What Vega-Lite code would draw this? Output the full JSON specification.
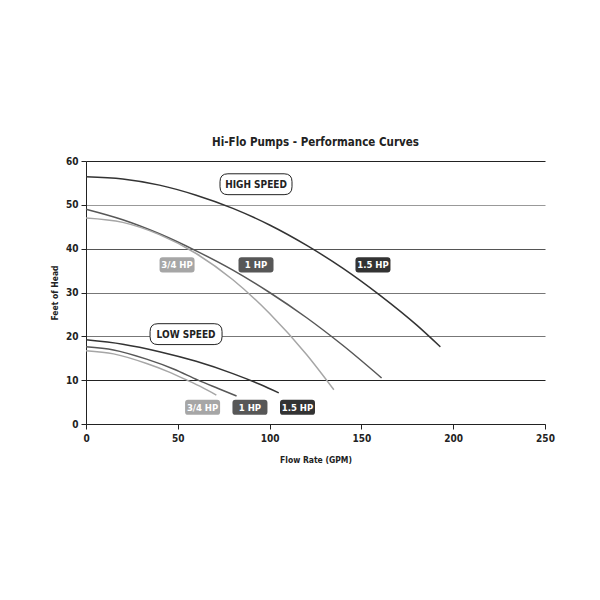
{
  "$schema": "https://vega.github.io/schema/vega-lite/v6.json",
  "width": 459,
  "height": 263,
  "autosize": {"type": "none"},
  "padding": {"left": 86, "top": 161, "right": 55, "bottom": 176},
  "background": "white",
  "title": {
    "text": "Hi-Flo Pumps - Performance Curves",
    "font": "DejaVu Sans Condensed, sans-serif",
    "fontSize": 11.5,
    "fontWeight": "bold",
    "color": "#222",
    "offset": 8
  },
  "config": {
    "view": {"stroke": null},
    "font": "DejaVu Sans Condensed, sans-serif",
    "axis": {
      "labelFont": "DejaVu Sans Condensed, sans-serif",
      "titleFont": "DejaVu Sans Condensed, sans-serif",
      "labelFontWeight": "bold",
      "titleFontWeight": "bold",
      "labelColor": "#222",
      "titleColor": "#222",
      "labelFontSize": 10,
      "titleFontSize": 8.5,
      "domainColor": "#222",
      "tickColor": "#222",
      "labelFlush": false,
      "labelOverlap": false
    }
  },
  "datasets": {
    "curves": [
      {"speed": "high", "hp": "1.5 HP", "flow": 0, "head": 56.4},
      {"speed": "high", "hp": "1.5 HP", "flow": 20, "head": 55.9},
      {"speed": "high", "hp": "1.5 HP", "flow": 40, "head": 54.5},
      {"speed": "high", "hp": "1.5 HP", "flow": 60, "head": 52.2},
      {"speed": "high", "hp": "1.5 HP", "flow": 80, "head": 49.2},
      {"speed": "high", "hp": "1.5 HP", "flow": 100, "head": 45.4},
      {"speed": "high", "hp": "1.5 HP", "flow": 120, "head": 40.8},
      {"speed": "high", "hp": "1.5 HP", "flow": 140, "head": 35.5},
      {"speed": "high", "hp": "1.5 HP", "flow": 160, "head": 29.4},
      {"speed": "high", "hp": "1.5 HP", "flow": 180, "head": 22.6},
      {"speed": "high", "hp": "1.5 HP", "flow": 193, "head": 17.6},
      {"speed": "high", "hp": "1 HP", "flow": 0, "head": 49},
      {"speed": "high", "hp": "1 HP", "flow": 20, "head": 46.6},
      {"speed": "high", "hp": "1 HP", "flow": 40, "head": 43.4},
      {"speed": "high", "hp": "1 HP", "flow": 60, "head": 39.5},
      {"speed": "high", "hp": "1 HP", "flow": 80, "head": 35.1},
      {"speed": "high", "hp": "1 HP", "flow": 100, "head": 30.0},
      {"speed": "high", "hp": "1 HP", "flow": 120, "head": 24.3},
      {"speed": "high", "hp": "1 HP", "flow": 140, "head": 17.9},
      {"speed": "high", "hp": "1 HP", "flow": 161, "head": 10.5},
      {"speed": "high", "hp": "3/4 HP", "flow": 0, "head": 47},
      {"speed": "high", "hp": "3/4 HP", "flow": 20, "head": 46.0},
      {"speed": "high", "hp": "3/4 HP", "flow": 40, "head": 43.2},
      {"speed": "high", "hp": "3/4 HP", "flow": 60, "head": 38.9},
      {"speed": "high", "hp": "3/4 HP", "flow": 80, "head": 32.9},
      {"speed": "high", "hp": "3/4 HP", "flow": 100, "head": 25.2},
      {"speed": "high", "hp": "3/4 HP", "flow": 120, "head": 15.9},
      {"speed": "high", "hp": "3/4 HP", "flow": 135, "head": 7.8},
      {"speed": "low", "hp": "1.5 HP", "flow": 0, "head": 19.2},
      {"speed": "low", "hp": "1.5 HP", "flow": 20, "head": 18.2},
      {"speed": "low", "hp": "1.5 HP", "flow": 40, "head": 16.5},
      {"speed": "low", "hp": "1.5 HP", "flow": 60, "head": 14.3},
      {"speed": "low", "hp": "1.5 HP", "flow": 80, "head": 11.5},
      {"speed": "low", "hp": "1.5 HP", "flow": 95, "head": 9.0},
      {"speed": "low", "hp": "1.5 HP", "flow": 105, "head": 7.1},
      {"speed": "low", "hp": "1 HP", "flow": 0, "head": 17.6},
      {"speed": "low", "hp": "1 HP", "flow": 15, "head": 16.9},
      {"speed": "low", "hp": "1 HP", "flow": 33, "head": 14.8},
      {"speed": "low", "hp": "1 HP", "flow": 48, "head": 12.5},
      {"speed": "low", "hp": "1 HP", "flow": 61, "head": 10.0},
      {"speed": "low", "hp": "1 HP", "flow": 72, "head": 8.1},
      {"speed": "low", "hp": "1 HP", "flow": 82, "head": 6.4},
      {"speed": "low", "hp": "3/4 HP", "flow": 0, "head": 16.7},
      {"speed": "low", "hp": "3/4 HP", "flow": 15, "head": 16.0},
      {"speed": "low", "hp": "3/4 HP", "flow": 33, "head": 13.8},
      {"speed": "low", "hp": "3/4 HP", "flow": 45, "head": 11.9},
      {"speed": "low", "hp": "3/4 HP", "flow": 55, "head": 10.0},
      {"speed": "low", "hp": "3/4 HP", "flow": 63, "head": 8.4},
      {"speed": "low", "hp": "3/4 HP", "flow": 71, "head": 6.6}
    ],
    "hplabels": [
      {"hp": "3/4 HP", "flow": 49.6, "head": 36.3},
      {"hp": "1 HP", "flow": 92.6, "head": 36.3},
      {"hp": "1.5 HP", "flow": 156.3, "head": 36.3},
      {"hp": "3/4 HP", "flow": 63.5, "head": 3.8},
      {"hp": "1 HP", "flow": 89.3, "head": 3.8},
      {"hp": "1.5 HP", "flow": 115.2, "head": 3.8}
    ],
    "speedlabels": [
      {"label": "HIGH SPEED", "flow": 92.6, "head": 54.7},
      {"label": "LOW SPEED", "flow": 54.5, "head": 20.5}
    ]
  },
  "layer": [
    {
      "data": {"name": "curves"},
      "mark": {"type": "line", "strokeWidth": 1.5, "interpolate": "monotone"},
      "encoding": {
        "x": {
          "field": "flow", "type": "quantitative",
          "scale": {"domain": [0, 250], "nice": false},
          "axis": {
            "title": "Flow Rate (GPM)",
            "values": [0, 50, 100, 150, 200, 250],
            "grid": false,
            "titlePadding": 12,
            "labelPadding": 4
          }
        },
        "y": {
          "field": "head", "type": "quantitative",
          "scale": {"domain": [0, 60], "nice": false},
          "axis": {
            "title": "Feet of Head",
            "values": [0, 10, 20, 30, 40, 50, 60],
            "grid": true,
            "gridWidth": 1.2,
            "gridColor": {
              "condition": [
                {"test": "datum.value === 10 || datum.value === 60", "value": "#222"},
                {"test": "datum.value === 40", "value": "#555"},
                {"test": "datum.value === 50", "value": "#999"}
              ],
              "value": "#777"
            },
            "titlePadding": 6,
            "labelPadding": 3
          }
        },
        "color": {
          "field": "hp", "type": "nominal",
          "scale": {"domain": ["3/4 HP", "1 HP", "1.5 HP"], "range": ["#a6a6a6", "#575757", "#333333"]},
          "legend": null
        },
        "detail": {"field": "speed"},
        "order": {"field": "flow"}
      }
    },
    {
      "mark": {"type": "rule", "color": "#aaaaaa", "strokeWidth": 2},
      "encoding": {"x": {"datum": 250}}
    },
    {
      "data": {"name": "hplabels"},
      "mark": {
        "type": "point", "filled": true, "opacity": 1, "size": 1225,
        "shape": "M-0.83,-0.43H0.83Q1,-0.43 1,-0.26V0.26Q1,0.43 0.83,0.43H-0.83Q-1,0.43 -1,0.26V-0.26Q-1,-0.43 -0.83,-0.43Z"
      },
      "encoding": {
        "x": {"field": "flow", "type": "quantitative"},
        "y": {"field": "head", "type": "quantitative"},
        "color": {"field": "hp", "type": "nominal", "legend": null}
      }
    },
    {
      "data": {"name": "hplabels"},
      "mark": {"type": "text", "color": "white", "fontWeight": "bold", "fontSize": 9.5, "baseline": "middle", "align": "center", "dy": 0.5},
      "encoding": {
        "x": {"field": "flow", "type": "quantitative"},
        "y": {"field": "head", "type": "quantitative"},
        "text": {"field": "hp"}
      }
    },
    {
      "data": {"name": "speedlabels"},
      "mark": {
        "type": "point", "filled": true, "fill": "white", "stroke": "#222", "strokeWidth": 1, "opacity": 1, "size": 5184,
        "shape": "M-0.78,-0.29H0.78Q1,-0.29 1,-0.07V0.07Q1,0.29 0.78,0.29H-0.78Q-1,0.29 -1,0.07V-0.07Q-1,-0.29 -0.78,-0.29Z"
      },
      "encoding": {
        "x": {"field": "flow", "type": "quantitative"},
        "y": {"field": "head", "type": "quantitative"}
      }
    },
    {
      "data": {"name": "speedlabels"},
      "mark": {"type": "text", "color": "#222", "fontWeight": "bold", "fontSize": 10, "baseline": "middle", "align": "center", "dy": 0.5},
      "encoding": {
        "x": {"field": "flow", "type": "quantitative"},
        "y": {"field": "head", "type": "quantitative"},
        "text": {"field": "label"}
      }
    }
  ]
}
